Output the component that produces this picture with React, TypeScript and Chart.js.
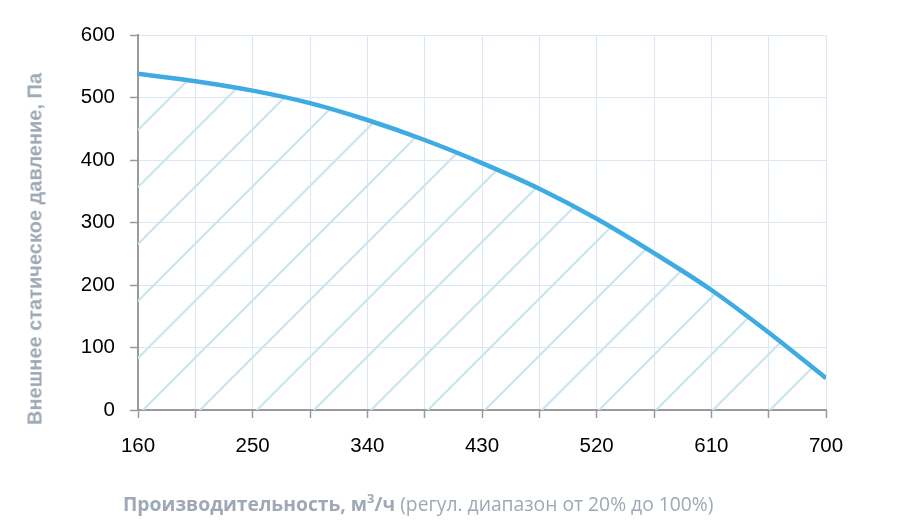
import { useEffect, useRef } from 'react';
import { Chart, registerables } from 'chart.js';

Chart.register(...registerables);

// air flow, m3/h
const flow = [160, 205, 250, 295, 340, 385, 430, 475, 520, 565, 610, 655, 700];
// external static pressure, Pa
const pressure = [538, 526, 511, 491, 464, 432, 395, 354, 306, 251, 192, 124, 51];
const xTickLabels = [160, 250, 340, 430, 520, 610, 700];

const lineBlue = '#3eabe3';
const gridBlue = '#dce7f4';
const axisGray = '#9a9a9a';
const titleGray = '#9ea9b5';

function makeHatch(): CanvasPattern | string {
  const s = 57;
  const k = 40; // line x + y = k inside the tile
  const c = document.createElement('canvas');
  c.width = s;
  c.height = s;
  const g = c.getContext('2d');
  if (!g) return 'rgba(0,0,0,0)';
  g.strokeStyle = '#cbe5ef';
  g.lineWidth = 2.2;
  g.beginPath();
  g.moveTo(-2, k + 2);
  g.lineTo(k + 2, -2);
  g.moveTo(k - 2, s + 2);
  g.lineTo(s + 2, k - 2);
  g.stroke();
  return g.createPattern(c, 'repeat') ?? 'rgba(0,0,0,0)';
}

export default function App() {
  const canvasRef = useRef<HTMLCanvasElement | null>(null);
  const chartRef = useRef<Chart | null>(null);

  useEffect(() => {
    const ctx = canvasRef.current?.getContext('2d');
    if (!ctx) return;
    if (chartRef.current) chartRef.current.destroy();

    chartRef.current = new Chart(ctx, {
      type: 'line',
      data: {
        datasets: [
          {
            data: flow.map((x, i) => ({ x, y: pressure[i] })),
            borderColor: lineBlue,
            borderWidth: 4.5,
            backgroundColor: makeHatch(),
            fill: 'origin',
            pointRadius: 0,
            tension: 0.4,
            cubicInterpolationMode: 'monotone',
          },
        ],
      },
      options: {
        animation: false,
        responsive: true,
        maintainAspectRatio: false,
        layout: { padding: { left: 0, top: 35, right: 86, bottom: 0 } },
        plugins: { legend: { display: false }, tooltip: { enabled: false } },
        scales: {
          x: {
            type: 'linear',
            min: 160,
            max: 700,
            afterFit: (scale) => {
              scale.height = 116;
            },
            afterBuildTicks: (scale) => {
              scale.ticks = flow.map((v) => ({ value: v }));
            },
            ticks: {
              autoSkip: false,
              maxRotation: 0,
              padding: 16,
              color: '#000',
              font: { family: 'Liberation Sans, Arial, sans-serif', size: 20.5 },
              callback: (v) => (xTickLabels.includes(Number(v)) ? String(v) : ''),
            },
            grid: { color: gridBlue, tickColor: axisGray, tickLength: 8, lineWidth: 1, tickWidth: 1.5 },
            border: { color: axisGray, width: 2 },
          },
          y: {
            min: 0,
            max: 600,
            afterFit: (scale) => {
              scale.width = 138;
            },
            ticks: {
              stepSize: 100,
              padding: 15,
              color: '#000',
              font: { family: 'Liberation Sans, Arial, sans-serif', size: 20.5 },
            },
            grid: { color: gridBlue, tickColor: axisGray, tickLength: 8, lineWidth: 1, tickWidth: 1.5 },
            border: { color: axisGray, width: 2 },
          },
        },
      },
    });

    return () => {
      if (chartRef.current) {
        chartRef.current.destroy();
        chartRef.current = null;
      }
    };
  }, []);

  return (
    <div style={{ position: 'fixed', left: 0, top: 0, width: 912, height: 526, background: '#fff' }}>
      <canvas ref={canvasRef}></canvas>
      <div
        style={{
          position: 'absolute',
          left: 35,
          top: 249,
          transform: 'translate(-50%, -50%) rotate(-90deg)',
          whiteSpace: 'nowrap',
          fontFamily: 'Liberation Sans, Arial, sans-serif',
          fontWeight: 'bold',
          fontSize: 20,
          color: titleGray,
        }}
      >
        Внешнее статическое давление, Па
      </div>
      <div
        style={{
          position: 'absolute',
          left: 123,
          top: 503,
          transform: 'translateY(-50%)',
          whiteSpace: 'nowrap',
          fontFamily: '"Open Sans", sans-serif',
          fontSize: 19.3,
          color: titleGray,
        }}
      >
        <b>
          Производительность, м<sup style={{ fontSize: 13, lineHeight: 0 }}>3</sup>/ч
        </b>{' '}
        (регул. диапазон от 20% до 100%)
      </div>
    </div>
  );
}
